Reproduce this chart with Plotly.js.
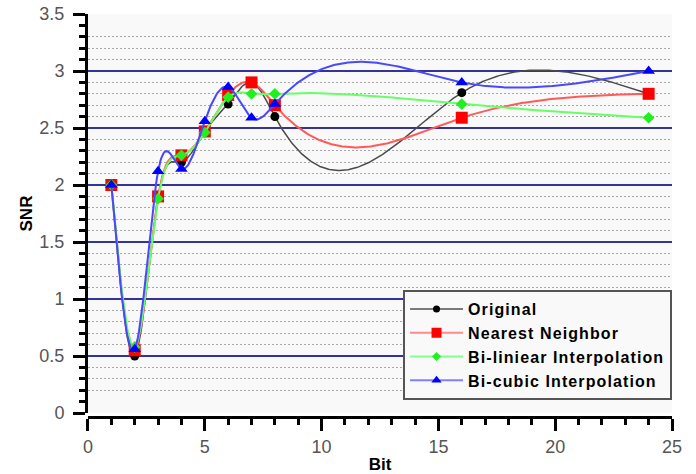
<!DOCTYPE html>
<html>
<head>
<meta charset="utf-8">
<script src="https://cdn.plot.ly/plotly-3.0.1.min.js"></script>
<style>
html,body{margin:0;padding:0;background:#fff;}
#chart{width:696px;height:474px;}
text.legendtext{letter-spacing:1.1px;}
</style>
</head>
<body>
<div id="chart"></div>
<script>
// ---- data ----
const bits = [1, 2, 3, 4, 5, 6, 7, 8, 16, 24];
const original = [2.0, 0.5, 1.9, 2.2, 2.47, 2.71, 2.9, 2.6, 2.81, 2.8];
const nearestNeighbor = [2.0, 0.55, 1.9, 2.26, 2.47, 2.79, 2.9, 2.7, 2.59, 2.8];
const biLinear = [2.0, 0.58, 1.88, 2.26, 2.46, 2.77, 2.8, 2.8, 2.71, 2.59];
const biCubic = [2.0, 0.56, 2.12, 2.14, 2.56, 2.86, 2.59, 2.71, 2.9, 3.0];
const seriesNames = ['Original', 'Nearest Neighbor', 'Bi-liniear Interpolation', 'Bi-cubic Interpolation'];
const yTickLabels = ['0', '0.5', '1', '1.5', '2', '2.5', '3', '3.5'];
const xTickLabels = ['0', '5', '10', '15', '20', '25'];

// ---- natural cubic spline used only to draw the smooth connecting curves ----
function naturalSpline(xs, ys, samples) {
  const n = xs.length - 1;
  const h = [], alpha = [0];
  for (let i = 0; i < n; i++) h.push(xs[i + 1] - xs[i]);
  for (let i = 1; i < n; i++) alpha.push(3 / h[i] * (ys[i + 1] - ys[i]) - 3 / h[i - 1] * (ys[i] - ys[i - 1]));
  const l = [1], mu = [0], z = [0];
  for (let i = 1; i < n; i++) {
    l.push(2 * (xs[i + 1] - xs[i - 1]) - h[i - 1] * mu[i - 1]);
    mu.push(h[i] / l[i]);
    z.push((alpha[i] - h[i - 1] * z[i - 1]) / l[i]);
  }
  const c = new Array(n + 1).fill(0), b = new Array(n).fill(0), d = new Array(n).fill(0);
  for (let j = n - 1; j >= 1; j--) c[j] = z[j] - mu[j] * c[j + 1];
  c[0] = 0;
  for (let j = 0; j < n; j++) {
    b[j] = (ys[j + 1] - ys[j]) / h[j] - h[j] * (c[j + 1] + 2 * c[j]) / 3;
    d[j] = (c[j + 1] - c[j]) / (3 * h[j]);
  }
  const outX = [], outY = [];
  for (let j = 0; j < n; j++) {
    const steps = Math.max(8, Math.round(samples * h[j] / (xs[n] - xs[0])));
    for (let s = 0; s < steps; s++) {
      const t = h[j] * s / steps;
      outX.push(xs[j] + t);
      outY.push(ys[j] + b[j] * t + c[j] * t * t + d[j] * t * t * t);
    }
  }
  outX.push(xs[n]); outY.push(ys[n]);
  return {x: outX, y: outY};
}

const allSeries = [original, nearestNeighbor, biLinear, biCubic];
const lineColors = ['#4a4a4a', '#ff5a5a', '#66ff66', '#4848ff'];
const legendLineColors = ['#7a7a7a', '#ff8a8a', '#88ff88', '#8080ff'];
const markerColors = ['#000000', '#ff0000', '#22ee22', '#0000ff'];
const markerSymbols = ['circle', 'square', 'diamond', 'triangle-up'];
const markerSizes = [9, 12, 9, 11];
const lineWidths = [1.5, 2, 2, 2];

const traces = [];
// legend entries
allSeries.forEach((ys, i) => {
  traces.push({
    x: [null], y: [null], type: 'scatter', mode: 'lines+markers', name: seriesNames[i],
    line: {color: legendLineColors[i], width: 2},
    marker: {color: markerColors[i], symbol: markerSymbols[i], size: markerSizes[i] - 2},
    showlegend: true, hoverinfo: 'skip'
  });
});
// curves + markers, drawn in order so blue ends on top
allSeries.forEach((ys, i) => {
  const sp = naturalSpline(bits, ys, 500);
  traces.push({
    x: sp.x, y: sp.y, type: 'scatter', mode: 'lines',
    line: {color: lineColors[i], width: lineWidths[i]},
    showlegend: false, hoverinfo: 'skip'
  });
  traces.push({
    x: bits, y: ys, type: 'scatter', mode: 'markers', name: seriesNames[i],
    marker: {color: markerColors[i], symbol: markerSymbols[i], size: markerSizes[i]},
    showlegend: false
  });
});

const yMajor = [0, 0.5, 1, 1.5, 2, 2.5, 3, 3.5];
const yMinorAll = [], yMinorGrid = [];
for (let k = 1; k < 35; k++) {
  if (k % 5 === 0) continue;
  const v = k / 10;
  yMinorAll.push(v);
  if (k !== 1 && k !== 34) yMinorGrid.push(v);
}
const xMajor = [0, 5, 10, 15, 20, 25];

const fontFam = 'Liberation Sans, Arial, Helvetica, sans-serif';

const layout = {
  width: 696, height: 474,
  margin: {l: 86, r: 24, t: 14, b: 57},
  paper_bgcolor: '#ffffff',
  plot_bgcolor: '#f9f9f9',
  showlegend: true,
  font: {family: fontFam},
  xaxis: {
    domain: [0.0034, 1], anchor: 'free', position: 0,
    range: [0, 25], tickmode: 'array', tickvals: xMajor, ticktext: xTickLabels,
    ticks: 'outside', ticklen: 12, tickwidth: 3, tickcolor: '#000',
    showline: true, linewidth: 3, linecolor: '#000',
    showgrid: false, zeroline: false,
    minor: {dtick: 1, tick0: 0, ticks: 'outside', ticklen: 6, tickwidth: 3, tickcolor: '#000', showgrid: false},
    tickfont: {family: fontFam, size: 18, color: '#555'},
    title: {text: 'Bit', font: {family: fontFam, size: 17, color: '#000', weight: 'bold'}, standoff: 3}
  },
  yaxis: {
    domain: [0.0099, 1], anchor: 'free', position: 0,
    range: [0, 3.5], tickmode: 'array', tickvals: yMajor, ticktext: yTickLabels,
    ticks: 'outside', ticklen: 12, tickwidth: 3, tickcolor: '#000',
    showline: true, linewidth: 3, linecolor: '#000',
    showgrid: false, zeroline: false, ticklabelstandoff: 5,
    minor: {tickmode: 'array', tickvals: yMinorAll, ticks: 'outside', ticklen: 6, tickwidth: 3, tickcolor: '#000', showgrid: false},
    tickfont: {family: fontFam, size: 18, color: '#555'},
    title: {text: 'SNR', font: {family: fontFam, size: 17, color: '#000', weight: 'bold'}, standoff: 1}
  },
  yaxis2: {
    overlaying: 'y', side: 'left', anchor: 'x',
    range: [0, 3.5], tickmode: 'array', tickvals: [0.5, 1, 1.5, 2, 2.5, 3],
    showticklabels: false, ticks: '', showline: false, zeroline: false,
    showgrid: true, gridcolor: '#33339a', gridwidth: 1.5,
    minor: {tickmode: 'array', tickvals: yMinorGrid, ticks: '', showgrid: true, gridcolor: '#a8a8a8', gridwidth: 1, griddash: '2px,2px'}
  },
  legend: {
    x: 0.541, y: 0.315, xanchor: 'left', yanchor: 'top',
    bgcolor: '#f9f9f9', bordercolor: '#555', borderwidth: 2,
    font: {family: fontFam, size: 16, color: '#000', weight: 'bold'},
    itemwidth: 53, tracegroupgap: 0
  }
};

// a dummy invisible trace to keep yaxis2 alive
traces.push({x: [null], y: [null], yaxis: 'y2', type: 'scatter', mode: 'markers', showlegend: false, hoverinfo: 'skip'});

Plotly.newPlot('chart', traces, layout, {displayModeBar: false, staticPlot: true});
</script>
</body>
</html>
